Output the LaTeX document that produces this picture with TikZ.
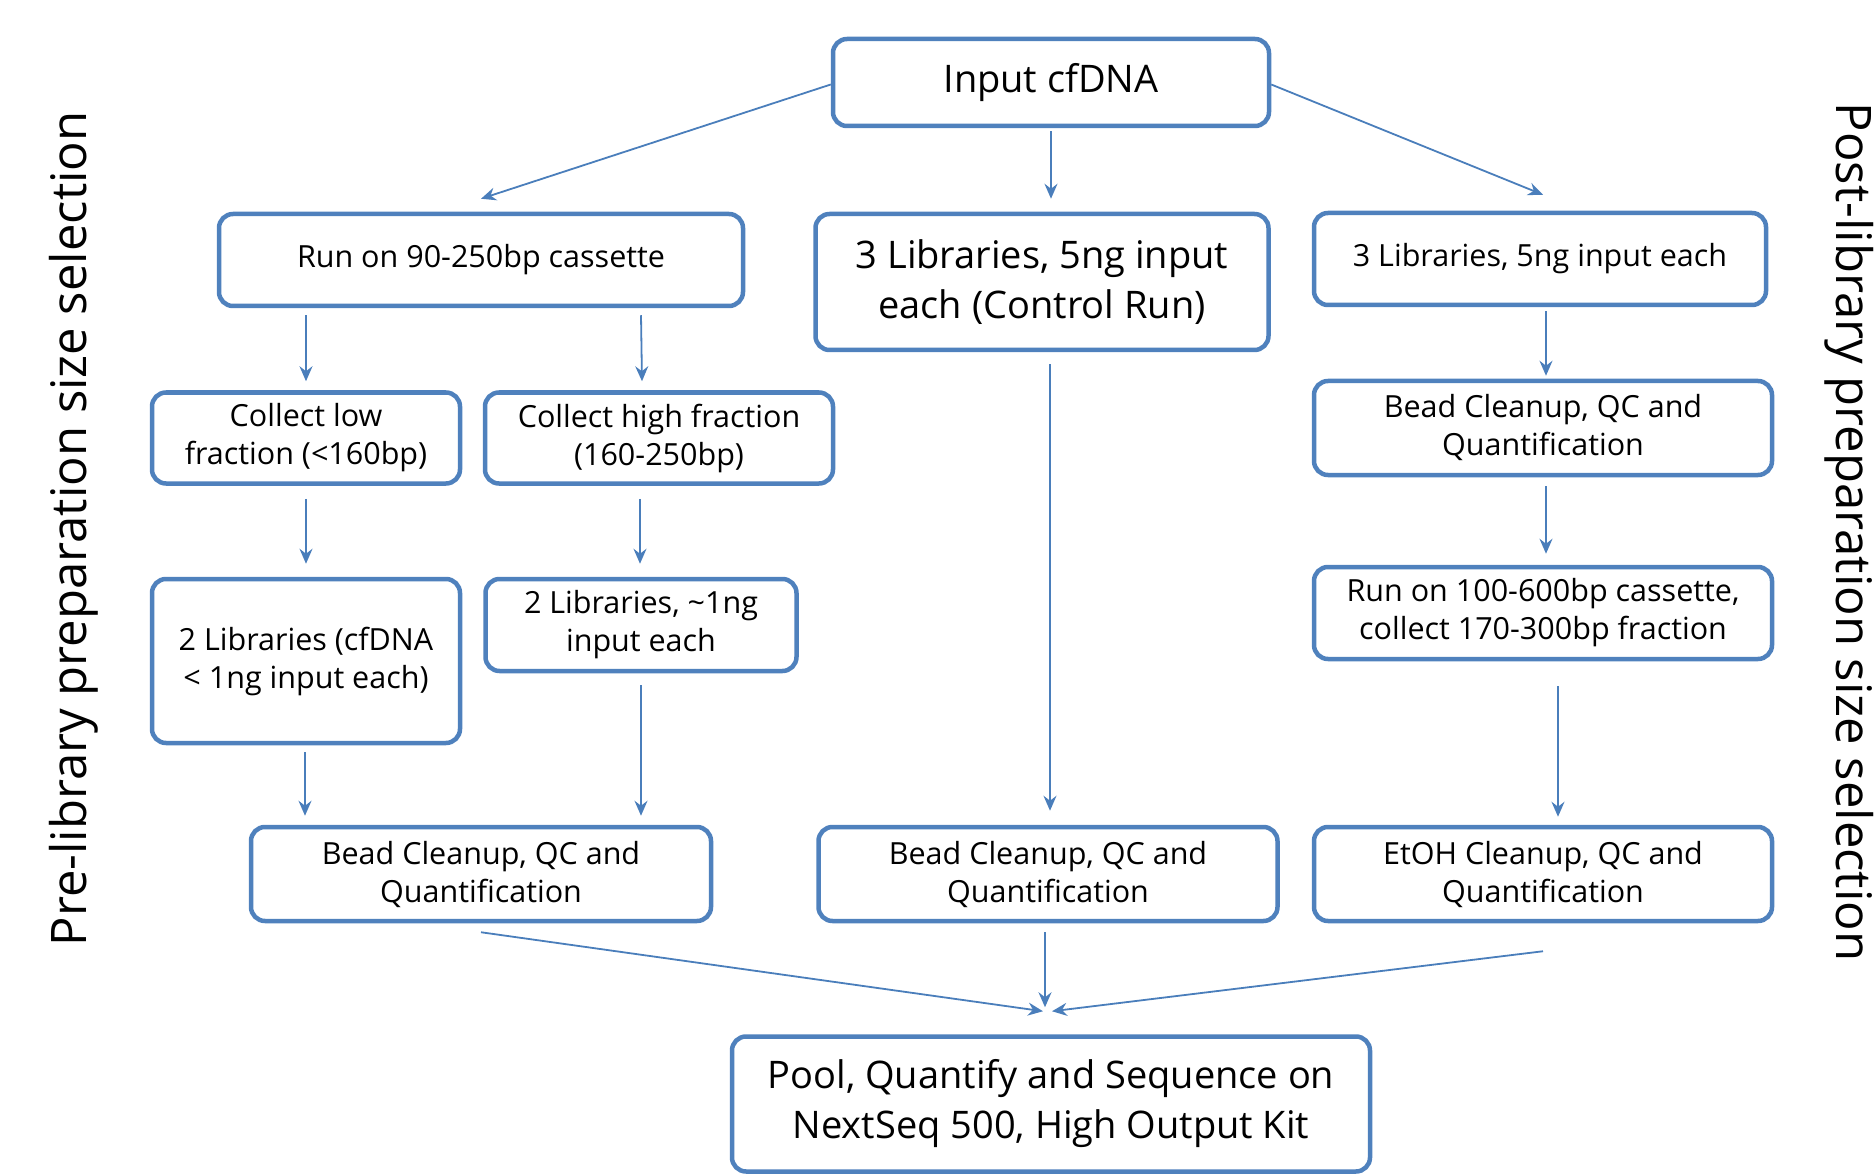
\documentclass[tikz,border=0pt]{standalone}
\usepackage{fontspec}
\setmainfont{Open Sans}
\usetikzlibrary{arrows.meta,calc}
\definecolor{bx}{HTML}{4F81BD}
\definecolor{ar}{HTML}{4A7EBB}
\begin{document}
\begin{tikzpicture}[x=1pt,y=-1pt,
  box/.style={draw=bx,line width=4.5pt,rounded corners=14pt,fill=white,align=center,
    inner sep=0pt,font=\fontsize{30.5}{38}\selectfont},
  bigbox/.style={box,font=\fontsize{38}{50}\selectfont},
  arr/.style={draw=ar,line width=1.8pt,-{Stealth[length=15pt,width=13pt,inset=5pt]}},
  side/.style={font=\fontsize{49}{56}\selectfont}]
\useasboundingbox (0,0) rectangle (1875,1174);
% nodes
\node[bigbox,minimum width=436pt,minimum height=87pt] (in) at (1051,82.5) {Input cfDNA};
\node[box,minimum width=524pt,minimum height=92pt] (run) at (481,260) {Run on 90-250bp cassette};
\node[bigbox,minimum width=453pt,minimum height=136pt] (ctrl) at (1042,282) {3 Libraries, 5ng input\\each (Control Run)};
\node[box,minimum width=452pt,minimum height=92pt] (r3) at (1540,259) {3 Libraries, 5ng input each};
\node[box,minimum width=308pt,minimum height=91pt] (low) at (306,438) {Collect low\\fraction (<160bp)};
\node[box,minimum width=348pt,minimum height=91pt] (high) at (659,438) {Collect high fraction\\(160-250bp)};
\node[box,minimum width=458pt,minimum height=94pt] (rbead) at (1543,428) {Bead Cleanup, QC and\\Quantification};
\node[box,minimum width=308pt,minimum height=164pt] (llib) at (306,661) {2 Libraries (cfDNA\\< 1ng input each)};
\node[box,minimum width=311pt,minimum height=92pt] (hlib) at (641,625) {2 Libraries, \textasciitilde1ng\\input each};
\node[box,minimum width=458pt,minimum height=92pt] (r100) at (1543,613) {Run on 100-600bp cassette,\\collect 170-300bp fraction};
\node[box,minimum width=460pt,minimum height=94pt] (lbead) at (481,874) {Bead Cleanup, QC and\\Quantification};
\node[box,minimum width=459pt,minimum height=94pt] (mbead) at (1048,874) {Bead Cleanup, QC and\\Quantification};
\node[box,minimum width=458pt,minimum height=94pt] (etoh) at (1543,874) {EtOH Cleanup, QC and\\Quantification};
\node[bigbox,minimum width=638pt,minimum height=135pt] (pool) at (1051,1104) {Pool, Quantify and Sequence on\\NextSeq 500, High Output Kit};
% side labels
\node[side,rotate=90] (pre) at (74,529) {Pre-library preparation size selection};
\node[side,rotate=-90] (post) at (1849,532) {Post-library preparation size selection};
% connectors
\draw[arr] ([yshift=-2]in.west) -- ([yshift=13]run.north);
\draw[arr] ([yshift=-3]in.south) -- ([xshift=9,yshift=13]ctrl.north);
\draw[arr] ([yshift=-2]in.east) -- ([xshift=3,yshift=16]r3.north);
\draw[arr] ([xshift=-175,yshift=-7]run.south) -- ([yshift=9]low.north);
\draw[arr] ([xshift=160,yshift=-7]run.south) -- ([xshift=-17,yshift=9]high.north);
\draw[arr] ([yshift=-13]low.south) -- ([yshift=13]llib.north);
\draw[arr] ([xshift=-19,yshift=-13]high.south) -- ([xshift=-1,yshift=13]hlib.north);
\draw[arr] ([xshift=-1,yshift=-7]llib.south) -- ([xshift=-176,yshift=9]lbead.north);
\draw[arr] ([yshift=-12]hlib.south) -- ([xshift=160,yshift=9]lbead.north);
\draw[arr] ([xshift=8,yshift=-12]ctrl.south) -- ([xshift=2,yshift=14]mbead.north);
\draw[arr] ([xshift=6,yshift=-4]r3.south) -- ([xshift=3,yshift=3]rbead.north);
\draw[arr] ([xshift=3,yshift=-9]rbead.south) -- ([xshift=3,yshift=11]r100.north);
\draw[arr] ([xshift=15,yshift=-25]r100.south) -- ([xshift=15,yshift=8]etoh.north);
\coordinate (tipL) at ([xshift=-8,yshift=23]pool.north);
\coordinate (tipM) at ([xshift=-6,yshift=27]pool.north);
\coordinate (tipR) at ([xshift=1,yshift=23]pool.north);
\draw[arr] ([yshift=-9]lbead.south) -- (tipL);
\draw[arr] ([xshift=-3,yshift=-9]mbead.south) -- (tipM);
\draw[arr] ([yshift=-28]etoh.south) -- (tipR);
\end{tikzpicture}
\end{document}
